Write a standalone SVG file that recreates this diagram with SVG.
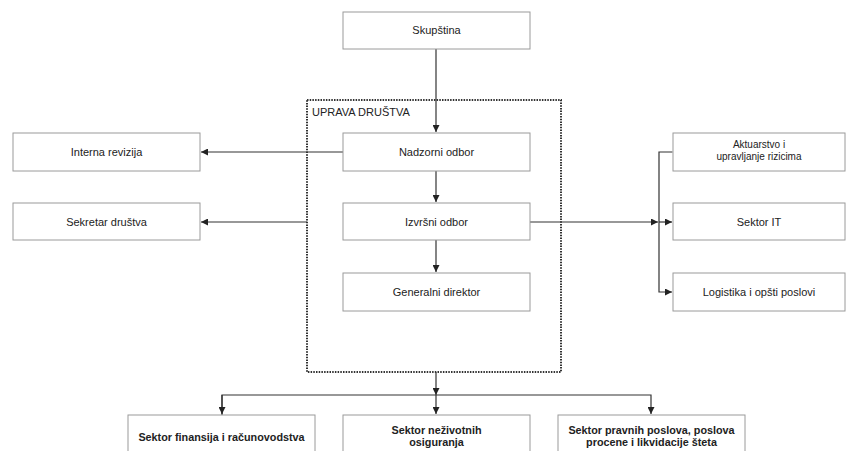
<svg xmlns="http://www.w3.org/2000/svg" width="846" height="451" viewBox="0 0 846 451">
<style>
.box{fill:#fff;stroke:#9a9a9a;stroke-width:1}
.t{font-family:"Liberation Sans",Arial,sans-serif;font-size:11px;fill:#222;text-anchor:middle}
.s{font-family:"Liberation Sans",Arial,sans-serif;font-size:10px;fill:#222;text-anchor:middle}
.b{font-family:"Liberation Sans",Arial,sans-serif;font-size:10.8px;font-weight:bold;fill:#222;text-anchor:middle}
.c{fill:none;stroke:#333;stroke-width:1.2}
.frame{fill:none;stroke:#333;stroke-width:2;stroke-dasharray:1.5 1.2}
</style>
<defs>
<marker id="ah" viewBox="0 0 10 10" refX="10" refY="5" markerWidth="7" markerHeight="7" orient="auto" markerUnits="userSpaceOnUse">
<path d="M0,0 L10,5 L0,10 z" fill="#222"/>
</marker>
</defs>
<rect class="frame" x="307" y="100" width="254" height="272"/>
<text x="312" y="116" style="font-family:'Liberation Sans',Arial,sans-serif;font-size:11px;fill:#222">UPRAVA DRUŠTVA</text>
<g id="connectors">
<path class="c" d="M436,49 V132" marker-end="url(#ah)"/>
<path class="c" d="M436,171 V202" marker-end="url(#ah)"/>
<path class="c" d="M436,240 V272" marker-end="url(#ah)"/>
<path class="c" d="M343,152 H201" marker-end="url(#ah)"/>
<path class="c" d="M307,222 H201" marker-end="url(#ah)"/>
<path class="c" d="M530,222 H658" marker-end="url(#ah)"/>
<path class="c" d="M672,152 H659 V292 H672" marker-start="url(#ah)" marker-end="url(#ah)"/>
<path class="c" d="M659,222 H672" marker-end="url(#ah)"/>
<path class="c" d="M436,372 V395" marker-end="url(#ah)"/>
<path class="c" d="M222,415 V395 H651 V414" marker-end="url(#ah)"/>
<path class="c" d="M222,395 V414" marker-end="url(#ah)"/>
<path class="c" d="M436,395 V414" marker-end="url(#ah)"/>
</g>
<g id="skupstina"><rect class="box" x="343" y="12" width="187" height="37"/><text class="t" x="436.5" y="34">Skupština</text></g>
<g id="nadzorni"><rect class="box" x="343" y="133" width="187" height="38"/><text class="t" x="436.5" y="156">Nadzorni odbor</text></g>
<g id="izvrsni"><rect class="box" x="343" y="203" width="187" height="37"/><text class="t" x="436.5" y="226">Izvršni odbor</text></g>
<g id="generalni"><rect class="box" x="343" y="273" width="187" height="38"/><text class="t" x="436.5" y="296">Generalni direktor</text></g>
<g id="interna"><rect class="box" x="13" y="133" width="187" height="38"/><text class="t" x="106.5" y="156">Interna revizija</text></g>
<g id="sekretar"><rect class="box" x="13" y="203" width="187" height="37"/><text class="t" x="106.5" y="226">Sekretar društva</text></g>
<g id="aktuarstvo"><rect class="box" x="673" y="133" width="172" height="38"/><text class="s" x="759" y="148">Aktuarstvo i</text><text class="s" x="759" y="159.5">upravljanje rizicima</text></g>
<g id="it"><rect class="box" x="673" y="203" width="172" height="37"/><text class="t" x="759" y="226">Sektor IT</text></g>
<g id="logistika"><rect class="box" x="673" y="273" width="172" height="38"/><text class="t" x="759" y="296">Logistika i opšti poslovi</text></g>
<g id="finansije"><rect class="box" x="128" y="415" width="187" height="45"/><text class="b" x="221.5" y="441">Sektor finansija i računovodstva</text></g>
<g id="nezivotno"><rect class="box" x="343" y="415" width="187" height="45"/><text class="b" x="436.5" y="434">Sektor neživotnih</text><text class="b" x="436.5" y="446">osiguranja</text></g>
<g id="pravni"><rect class="box" x="558" y="415" width="187" height="45"/><text class="b" x="651.5" y="434">Sektor pravnih poslova, poslova</text><text class="b" x="651.5" y="446">procene i likvidacije šteta</text></g>
</svg>
